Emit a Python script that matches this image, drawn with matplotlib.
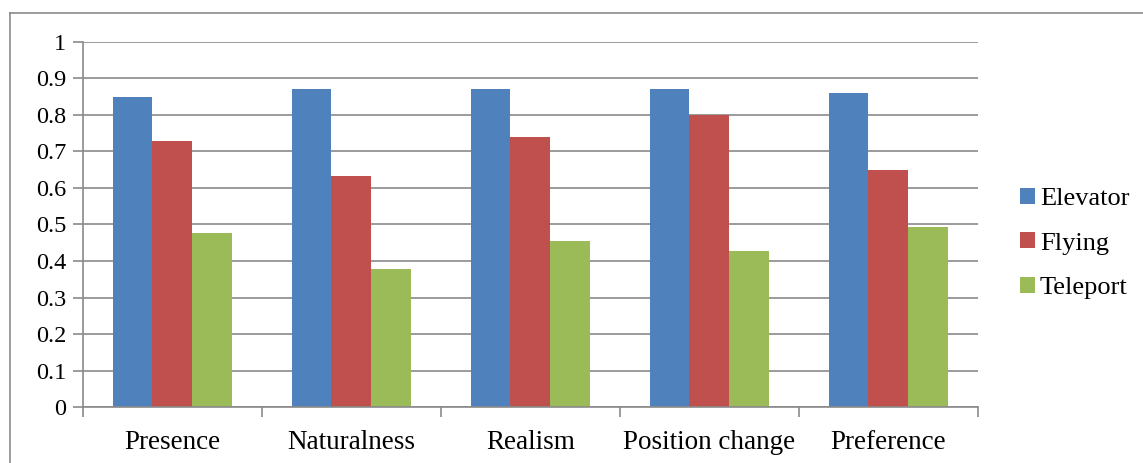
import numpy as np
import matplotlib.pyplot as plt
from matplotlib.lines import Line2D

plt.rcParams['font.family'] = ['Liberation Serif', 'DejaVu Serif']

# Mean ratings per condition
categories = ["Presence", "Naturalness", "Realism", "Position change", "Preference"]
elevator = [0.850, 0.871, 0.871, 0.871, 0.860]
flying = [0.727, 0.633, 0.739, 0.800, 0.649]
teleport = [0.477, 0.377, 0.455, 0.428, 0.493]

series = [("Elevator", elevator, "#4F81BD"),
          ("Flying", flying, "#C0504D"),
          ("Teleport", teleport, "#9BBB59")]

fig = plt.figure(figsize=(11.43, 4.63), dpi=100)
ax = fig.add_axes([0.0724, 0.1203, 0.7830, 0.7897])

x = np.arange(len(categories))
width = 0.222
for i, (name, vals, color) in enumerate(series):
    ax.bar(x + (i - 1) * width, vals, width, color=color, label=name, zorder=3)

grid_color = "#8a8a8a"
ax.set_ylim(0, 1)
ax.set_xlim(-0.5, len(categories) - 0.5)
ax.set_yticks(np.arange(0, 1.01, 0.1))
ax.set_yticklabels(["0"] + [f"{v:.1f}" for v in np.arange(0.1, 0.95, 0.1)] + ["1"])
ax.yaxis.grid(True, color=grid_color, linewidth=1.2, zorder=0)
ax.set_axisbelow(True)

ax.set_xticks(x)
ax.set_xticklabels(categories)
ax.set_xticks(np.arange(-0.5, len(categories)), minor=True)
ax.tick_params(axis="x", which="major", length=0, pad=16, labelsize=19.5)
ax.tick_params(axis="x", which="minor", length=7, width=1.2, color=grid_color)
ax.tick_params(axis="y", length=7, width=1.2, color=grid_color, pad=5, labelsize=17.5)

for side in ["top", "right"]:
    ax.spines[side].set_visible(False)
for side in ["left", "bottom"]:
    ax.spines[side].set_color(grid_color)
    ax.spines[side].set_linewidth(1.2)
    ax.spines[side].set_zorder(4)

leg = ax.legend(loc="center left", bbox_to_anchor=(0.8925, 0.474),
                bbox_transform=fig.transFigure, frameon=False, fontsize=19,
                handlelength=0.55, handleheight=0.55, handletextpad=0.2,
                labelspacing=0.84, borderpad=0, borderaxespad=0)

# outer chart frame (top and left edges)
fx0, fy0 = 9.5 / 1143, 1 - 12.7 / 463
fig.add_artist(Line2D([fx0, 1.0], [fy0, fy0], transform=fig.transFigure,
                      color=grid_color, linewidth=1.2))
fig.add_artist(Line2D([fx0, fx0], [0.0, fy0], transform=fig.transFigure,
                      color=grid_color, linewidth=1.2))

fig.savefig("out.png", dpi=100)
